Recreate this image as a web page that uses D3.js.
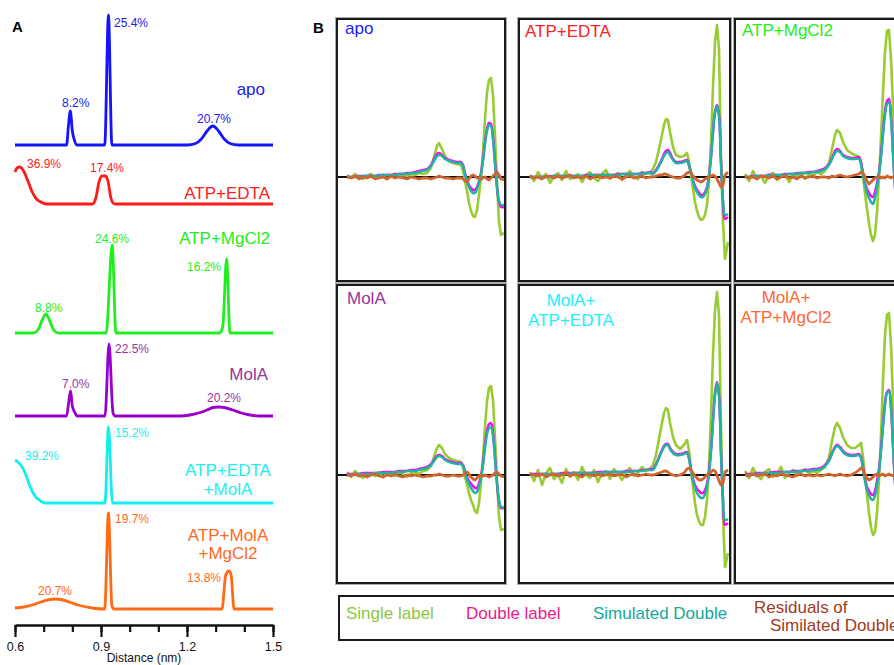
<!DOCTYPE html>
<html><head><meta charset="utf-8">
<script src="https://cdn.jsdelivr.net/npm/d3@7"></script>
<style>
body{margin:0;background:#fff}
svg{display:block;font-family:"Liberation Sans",Arial,Helvetica,sans-serif}
</style>
</head><body>
<svg id="chart" width="894" height="665"></svg>
<script>
// ================= DATA =================
// ---- Panel A: distance distributions (distance in nm, probability in a.u.) ----
const A_NAMES = ["apo", "ATP+EDTA", "ATP+MgCl2", "MolA", "ATP+EDTA+MolA", "ATP+MolA+MgCl2"];
const DIST_TICKS_MINOR = [0.6, 0.7, 0.8, 0.9, 1.0, 1.1, 1.2, 1.3, 1.4, 1.5];
const DIST_TICKS_MAJOR = [0.6, 0.9, 1.2, 1.5];

const DIST_APO = [0.6, 0.78, 0.786, 0.793, 0.80, 0.806, 0.815, 0.913, 0.926, 0.938, 1.20, 1.23, 1.25, 1.27, 1.29, 1.31, 1.33, 1.35, 1.38, 1.5];
const PROB_APO = [0, 0, 18, 34, 14, 6, 0, 0, 130, 0, 0, 1.5, 6, 14, 19, 14, 6, 1.5, 0, 0];
const PCT_APO = ["8.2%", "25.4%", "20.7%"];

const DIST_EDTA = [0.6, 0.607, 0.617, 0.63, 0.645, 0.66, 0.675, 0.69, 0.71, 0.87, 0.882, 0.893, 0.903, 0.915, 0.925, 0.933, 0.942, 0.95, 1.5];
const PROB_EDTA = [32, 36, 37, 33, 23, 12, 5, 2, 0, 0, 6, 22, 28, 28, 22, 8, 1, 0, 0];
const PCT_EDTA = ["36.9%", "17.4%"];

const DIST_MG = [0.6, 0.665, 0.68, 0.695, 0.708, 0.72, 0.735, 0.75, 0.918, 0.939, 0.952, 1.315, 1.325, 1.338, 1.35, 1.5];
const PROB_MG = [0, 0, 3, 13, 19, 13, 3, 0, 0, 88, 0, 0, 7, 74, 0, 0];
const PCT_MG = ["8.8%", "24.6%", "16.2%"];

const DIST_MOLA = [0.6, 0.78, 0.787, 0.794, 0.80, 0.808, 0.817, 0.914, 0.928, 0.942, 0.95, 1.18, 1.21, 1.24, 1.27, 1.29, 1.31, 1.33, 1.36, 1.39, 1.42, 1.45, 1.5];
const PROB_MOLA = [0, 0, 13, 25, 10, 4, 0, 0, 72, 3, 0, 0, 1, 3, 6, 8.5, 9, 8.5, 6, 3, 1, 0, 0];
const PCT_MOLA = ["7.0%", "22.5%", "20.2%"];

const DIST_EDTA_MOLA = [0.6, 0.61, 0.623, 0.638, 0.652, 0.665, 0.676, 0.69, 0.705, 0.914, 0.926, 0.94, 1.5];
const PROB_EDTA_MOLA = [43, 41, 37, 28, 17, 9, 5, 2, 0, 0, 76, 0, 0];
const PCT_EDTA_MOLA = ["39.2%", "15.2%"];

const DIST_MOLA_MG = [0.6, 0.63, 0.66, 0.69, 0.72, 0.74, 0.76, 0.79, 0.82, 0.85, 0.88, 0.913, 0.926, 0.938, 0.945, 1.322, 1.335, 1.346, 1.354, 1.364, 1.5];
const PROB_MOLA_MG = [1, 2, 4, 7, 9.5, 10, 9.5, 7, 4, 2, 0.5, 0, 96, 3, 0, 0, 34, 38, 34, 0, 0];
const PCT_MOLA_MG = ["20.7%", "19.7%", "13.8%"];

// ---- Panel B: CW spectra (field in G, amplitude in a.u.) ----
const B_TITLES = [["apo"], ["ATP+EDTA"], ["ATP+MgCl2"], ["MolA"], ["MolA+", "ATP+EDTA"], ["MolA+", "ATP+MgCl2"]];
const B_SERIES = ["Single label", "Double label", "Simulated Double", "Residuals of|Similated Double"];

const FIELD_NARROW = [3310,3314,3318,3322,3326,3330,3334,3338,3342,3346,3350,3354,3358,3362,3366,3370,3374,3378,3382,3386,
  3390,3394,3397,3400,3402,3405,3408,3412,3416,3420,3424,3426,3428,3430,3432,3434,3436,3438,3440,3442,3444,3446,3448,3450,3452,3454,3456,3458,3460,3462,3464,3467];
const FIELD_WIDE = [3264,3268,3272,3276,3280,3284,3288,3292,3296,3300,3304,3308,3312,3316,3320,3324,3328,3332,3336,3340,3344,3348,3352,3356,3360,3364,3368,3372,3376,3380,3384,
  3387,3390,3393,3396,3398,3400,3402,3404,3407,3410,3414,3418,3421,3423,3425,3427,3429,3431,3433,3435,3437,3439,3441,3443,3445,3447,3449,3451,3453,3455,3457,3459,3462];

// apo
const APO_SINGLE = [2,-1,3,0,-2,1,3,-1,0,2,-2,1,3,0,2,1,3,2,4,3,
  4,9,20,31,34,28,21,16,14,13,12,6,-4,-14,-26,-34,-39,-40,-33,-18,-2,25,58,85,97,99,82,42,-5,-45,-58,-56];
const APO_DOUBLE = [0,0,0,1,1,1,1,1,2,2,2,2,3,3,3,4,4,5,6,7,
  8,12,18,23,24,22,19,17,16,15,15,12,4,-3,-8,-11,-13,-13,-10,-4,4,18,35,48,54,53,40,15,-10,-25,-30,-30];
const APO_SIM = [0,0,0,0,1,1,1,1,1,2,2,2,2,3,3,3,4,4,5,6,
  7,11,16,21,22,21,18,16,15,14,14,11,3,-5,-10,-14,-16,-16,-12,-5,3,16,33,46,52,51,38,13,-10,-24,-28,-28];
const APO_RESID = [0,-1,1,-2,0,-1,1,-2,-1,0,-2,1,-1,0,-1,-2,0,-1,-2,-1,
  -1,-2,-1,0,1,0,-1,-1,-2,-1,-1,-2,-4,-5,-2,1,2,1,-1,-1,-2,-1,0,-2,-3,-1,1,3,5,2,-2,-3];

// ATP+EDTA
const EDTA_SINGLE = [2,-4,5,-1,3,-6,1,4,-3,6,-2,0,3,-5,2,5,-1,-4,3,7,-2,1,4,-3,2,6,0,-2,5,3,4,
  8,15,28,42,52,58,57,45,30,22,20,21,24,16,2,-12,-25,-34,-40,-43,-42,-38,-28,-5,35,90,135,152,128,20,-45,-82,-65];
const EDTA_DOUBLE = [0,0,0,0,0,1,1,1,1,1,1,1,1,1,2,2,2,2,2,2,2,2,3,3,3,3,3,3,4,4,5,
  4,7,12,18,23,26,27,24,18,15,15,16,17,12,5,-3,-9,-13,-16,-18,-18,-15,-10,2,20,45,65,72,62,15,-25,-42,-40];
const EDTA_SIM = [0,0,0,0,0,0,1,1,1,1,1,1,1,1,1,2,2,2,2,2,2,2,2,3,3,3,3,3,3,4,4,
  3,6,11,17,21,24,25,22,17,14,14,15,16,11,4,-4,-11,-15,-18,-20,-20,-17,-11,1,19,44,64,71,61,14,-23,-38,-37];
const EDTA_RESID = [1,-1,0,-2,1,0,-1,1,-1,0,2,-1,0,-1,1,-2,0,1,-1,0,-1,1,0,-2,0,1,-1,0,1,-1,0,
  0,1,2,2,3,3,2,1,0,-1,-1,1,4,5,4,1,-1,-3,-4,-5,-4,-2,-1,0,1,2,1,-2,-6,-10,-8,2,5];

// ATP+MgCl2
const MG_SINGLE = [3,-4,6,-2,1,-6,2,4,-3,0,3,-5,2,1,4,-2,3,1,5,3,
  6,14,28,42,47,44,35,27,24,22,20,14,0,-16,-32,-46,-58,-64,-58,-35,0,40,85,125,146,147,118,72,22,-28,-52,-58];
const MG_DOUBLE = [0,0,1,1,1,1,2,2,2,2,3,3,3,4,4,4,5,5,6,7,
  9,13,19,26,28,26,22,20,19,19,20,15,4,-6,-12,-16,-19,-20,-15,-6,5,22,45,65,76,78,60,25,-10,-30,-38,-38];
const MG_SIM = [0,0,0,1,1,1,1,2,2,2,2,3,3,3,4,4,4,5,5,6,
  8,12,18,24,26,25,21,19,18,18,18,13,2,-8,-16,-21,-25,-27,-21,-10,3,20,42,62,73,75,58,23,-10,-28,-36,-36];
const MG_RESID = [1,-1,0,-2,1,0,-1,1,-2,0,1,-1,0,-2,1,-1,0,1,-1,0,
  0,-1,1,0,1,2,1,0,1,2,3,5,4,0,-4,-7,-5,-3,-1,0,1,-1,0,-1,1,0,-1,0,1,0,-1,0];

// MolA
const MOLA_SINGLE = [3,-2,4,0,-3,2,1,-1,3,-2,2,0,-1,3,1,-2,2,3,1,4,
  5,9,18,27,30,27,21,17,15,14,13,8,-2,-10,-18,-25,-30,-36,-38,-28,-8,18,48,74,87,89,75,38,-5,-42,-55,-54];
const MOLA_DOUBLE = [1,1,1,1,2,2,2,2,2,3,3,3,3,4,4,4,5,5,6,7,
  8,11,15,19,20,19,16,14,13,12,12,10,4,-2,-6,-9,-11,-13,-13,-8,-1,12,30,44,51,52,42,18,-8,-26,-33,-33];
const MOLA_SIM = [0,0,1,1,1,1,1,2,2,2,2,2,3,3,3,4,4,4,5,6,
  7,10,14,18,19,18,15,13,12,11,11,9,2,-4,-9,-13,-16,-18,-17,-11,-3,10,27,41,47,48,39,16,-8,-25,-32,-32];
const MOLA_RESID = [0,-1,1,-1,0,-2,0,1,-1,-2,0,-1,1,-1,-2,0,-1,0,-1,-2,
  -1,-1,0,0,1,0,-1,-1,0,-1,-1,0,2,3,1,-2,-4,-5,-3,-1,0,-1,0,-1,-2,-1,0,2,3,1,-1,-2];

// MolA+ATP+EDTA
const MOLA_EDTA_SINGLE = [3,-6,5,-10,2,7,-4,1,-8,6,-2,3,-5,8,0,-3,5,-7,2,4,-4,6,1,-5,3,7,-1,2,8,4,6,
  10,20,36,52,62,67,65,52,38,30,26,30,35,25,5,-12,-28,-40,-46,-50,-50,-42,-25,10,60,120,165,183,160,50,-40,-92,-78];
const MOLA_EDTA_DOUBLE = [1,1,1,1,1,1,1,1,2,2,2,2,2,2,2,2,2,3,3,3,3,3,3,3,4,4,4,4,5,5,6,
  6,11,18,25,29,31,31,27,23,21,21,22,23,17,6,-4,-10,-14,-16,-18,-18,-15,-9,4,25,55,82,93,80,22,-25,-50,-48];
const MOLA_EDTA_SIM = [0,0,0,1,1,1,1,1,1,1,1,2,2,2,2,2,2,2,2,3,3,3,3,3,3,3,4,4,4,5,5,
  5,10,17,24,28,30,30,26,22,20,20,21,22,16,4,-6,-13,-18,-21,-23,-23,-19,-12,2,23,53,80,92,79,21,-23,-45,-44];
const MOLA_EDTA_RESID = [1,0,-1,1,-2,0,1,-1,0,2,-1,1,0,-2,1,0,-1,1,-1,0,1,-1,0,1,-2,0,1,-1,0,1,0,
  0,1,2,3,4,4,3,1,0,-1,0,2,6,7,5,2,-1,-3,-5,-5,-4,-2,0,1,3,5,4,0,-6,-10,-8,3,5];

// MolA+ATP+MgCl2
const MOLA_MG_SINGLE = [4,-3,7,0,-4,3,6,-2,1,8,-3,2,5,-1,3,6,1,4,2,5,
  8,18,34,48,52,47,38,30,27,27,30,32,18,0,-20,-38,-52,-60,-57,-38,-5,40,95,140,160,162,130,75,20,-30,-55,-60];
const MOLA_MG_DOUBLE = [1,1,1,2,2,2,2,3,3,3,3,3,4,4,4,5,5,6,6,7,
  10,15,22,28,30,28,24,21,20,20,21,18,8,-4,-12,-16,-19,-20,-16,-6,6,26,50,72,83,85,68,30,-8,-30,-38,-38];
const MOLA_MG_SIM = [0,0,1,1,1,2,2,2,2,2,3,3,3,3,4,4,4,5,5,6,
  9,14,21,27,29,27,23,20,19,19,20,17,6,-6,-15,-20,-24,-25,-21,-10,3,24,48,70,82,84,67,29,-8,-29,-37,-37];
const MOLA_MG_RESID = [0,-1,1,-1,0,1,-2,0,-1,1,0,-1,-2,0,1,-1,0,-1,0,-1,
  0,1,0,-1,0,1,0,-1,0,2,5,7,5,0,-3,-5,-4,-2,0,1,-1,0,1,-1,0,1,0,-1,0,1,0,-1];

// ================= LAYOUT / STYLE =================
const svg = d3.select("#chart");
svg.append("rect").attr("width", 894).attr("height", 665).attr("fill", "#fff");

const A_COLORS = ["#1414ff", "#ff1a1a", "#1fee1f", "#9a00cc", "#14eeee", "#ff6a14"];
const A_TEXT = ["#2020ee", "#ff2020", "#22ee22", "#993399", "#22eeee", "#ff6a22"];
const A_BASE = [145, 204, 333, 416, 503, 609];

const xA = d3.scaleLinear().domain([0.6, 1.5]).range([15, 273]);
const hA = d3.scaleLinear().domain([0, 130]).range([0, 130]);

svg.append("text").attr("x", 12).attr("y", 32).attr("font-size", 15).attr("font-weight", "bold").text("A");
svg.append("text").attr("x", 313).attr("y", 33).attr("font-size", 15).attr("font-weight", "bold").text("B");

const aTraces = [
  {d: DIST_APO, p: PROB_APO, pct: PCT_APO},
  {d: DIST_EDTA, p: PROB_EDTA, pct: PCT_EDTA},
  {d: DIST_MG, p: PROB_MG, pct: PCT_MG},
  {d: DIST_MOLA, p: PROB_MOLA, pct: PCT_MOLA},
  {d: DIST_EDTA_MOLA, p: PROB_EDTA_MOLA, pct: PCT_EDTA_MOLA},
  {d: DIST_MOLA_MG, p: PROB_MOLA_MG, pct: PCT_MOLA_MG}
];
const A_PCT_POS = [
  [[62,107],[114,27],[197,123]],
  [[27,168],[90,172]],
  [[35,312],[95,243],[187,271]],
  [[62,388],[115,353],[207,402]],
  [[25,460],[115,437]],
  [[38,595],[115,523],[187,582]]
];
const A_NAME_POS = [
  {lines: ["apo"], x: 265, y: [95], anchor: "end"},
  {lines: ["ATP+EDTA"], x: 270, y: [199], anchor: "end"},
  {lines: ["ATP+MgCl2"], x: 270, y: [244], anchor: "end"},
  {lines: ["MolA"], x: 268, y: [380], anchor: "end"},
  {lines: ["ATP+EDTA", "+MolA"], x: 228, y: [476, 495], anchor: "middle"},
  {lines: ["ATP+MolA", "+MgCl2"], x: 228, y: [541, 559], anchor: "middle"}
];

const gA = svg.append("g");
aTraces.forEach((t, k) => {
  const line = d3.line()
    .x((v, i) => xA(t.d[i]))
    .y(v => A_BASE[k] - hA(v))
    .curve(d3.curveMonotoneX);
  gA.append("path").attr("d", line(t.p)).attr("fill", "none")
    .attr("stroke", A_COLORS[k]).attr("stroke-width", 2.8).attr("stroke-linejoin", "round");
  t.pct.forEach((s, j) => {
    gA.append("text").attr("x", A_PCT_POS[k][j][0]).attr("y", A_PCT_POS[k][j][1])
      .attr("font-size", 12).attr("fill", A_TEXT[k]).text(s);
  });
  const nm = A_NAME_POS[k];
  nm.lines.forEach((s, j) => {
    gA.append("text").attr("x", nm.x).attr("y", nm.y[j]).attr("text-anchor", nm.anchor)
      .attr("font-size", 17).attr("fill", A_TEXT[k]).text(s);
  });
});

// axis
const axMinor = svg.append("g").attr("transform", "translate(0,625)")
  .call(d3.axisBottom(xA).tickValues(DIST_TICKS_MINOR).tickSize(7).tickSizeOuter(0).tickFormat(""));
const axMajor = svg.append("g").attr("transform", "translate(0,625)")
  .call(d3.axisBottom(xA).tickValues(DIST_TICKS_MAJOR).tickSize(12).tickSizeOuter(0).tickPadding(5).tickFormat(d3.format(".1f")));
axMajor.select(".domain").remove();
axMinor.select(".domain").attr("stroke", "#111").attr("stroke-width", 2.5);
svg.selectAll(".tick line").attr("stroke", "#111").attr("stroke-width", 2.2);
axMajor.selectAll("text").attr("font-size", 12.5).attr("fill", "#111").style("font-family", "'Liberation Sans',Arial,sans-serif");
svg.append("text").attr("x", 144).attr("y", 662).attr("text-anchor", "middle").attr("font-size", 12).attr("fill", "#111").text("Distance (nm)");

// ---- Panel B ----
const B_COLORS = ["#99cc33", "#ff00ff", "#22b2a2", "#d0652e"];
const B_TEXT = ["#8dc63f", "#ec1a8c", "#13a99b", "#a03c24"];
const TITLE_COLORS = ["#1a1aff", "#ff2020", "#22ee22", "#993399", "#22eeff", "#ff6633"];

const panelData = [
  {field: FIELD_NARROW, s: [APO_SINGLE, APO_DOUBLE, APO_SIM, APO_RESID]},
  {field: FIELD_WIDE, s: [EDTA_SINGLE, EDTA_DOUBLE, EDTA_SIM, EDTA_RESID]},
  {field: FIELD_NARROW, s: [MG_SINGLE, MG_DOUBLE, MG_SIM, MG_RESID]},
  {field: FIELD_NARROW, s: [MOLA_SINGLE, MOLA_DOUBLE, MOLA_SIM, MOLA_RESID]},
  {field: FIELD_WIDE, s: [MOLA_EDTA_SINGLE, MOLA_EDTA_DOUBLE, MOLA_EDTA_SIM, MOLA_EDTA_RESID]},
  {field: FIELD_NARROW, s: [MOLA_MG_SINGLE, MOLA_MG_DOUBLE, MOLA_MG_SIM, MOLA_MG_RESID]}
];
const TOP = {y: 19, h: 262, dom: [-104, 158]};
const BOT = {y: 285, h: 298, dom: [-108, 190]};
const panelLayout = [
  {x: 337, w: 168, row: TOP, xdom: [3300, 3468], tx: 345, ty: [34], ta: "start"},
  {x: 519, w: 211, row: TOP, xdom: [3253, 3464], tx: 525, ty: [37], ta: "start"},
  {x: 735, w: 168, row: TOP, xdom: [3300, 3468], tx: 742, ty: [36], ta: "start"},
  {x: 337, w: 168, row: BOT, xdom: [3300, 3468], tx: 347, ty: [304], ta: "start"},
  {x: 519, w: 211, row: BOT, xdom: [3253, 3464], tx: 571, ty: [306, 326], ta: "middle"},
  {x: 735, w: 168, row: BOT, xdom: [3300, 3468], tx: 786, ty: [303, 323], ta: "middle"}
];
const CURVES = [d3.curveLinear, d3.curveCatmullRom.alpha(0.5), d3.curveCatmullRom.alpha(0.5), d3.curveLinear];
const WIDTHS = [2.6, 2.5, 2.5, 2.8];

const defs = svg.append("defs");
panelLayout.forEach((L, k) => {
  const P = panelData[k];
  const y0 = L.row.y, h = L.row.h;
  const xs = d3.scaleLinear().domain(L.xdom).range([L.x, L.x + L.w]);
  const ys = d3.scaleLinear().domain(L.row.dom).range([y0 + h, y0]);
  defs.append("clipPath").attr("id", "clip" + k).append("rect")
    .attr("x", L.x + 1).attr("y", y0 + 1).attr("width", L.w - 2).attr("height", h - 2);
  const g = svg.append("g");
  const gc = g.append("g").attr("clip-path", `url(#clip${k})`);
  gc.append("line").attr("x1", L.x).attr("x2", L.x + L.w).attr("y1", ys(0)).attr("y2", ys(0))
    .attr("stroke", "#111").attr("stroke-width", 2.2);
  P.s.forEach((arr, si) => {
    const line = d3.line().x((v, i) => xs(P.field[i])).y(v => ys(v)).curve(CURVES[si]);
    gc.append("path").attr("d", line(arr)).attr("fill", "none")
      .attr("stroke", B_COLORS[si]).attr("stroke-width", WIDTHS[si])
      .attr("stroke-linejoin", "round");
  });
  g.append("rect").attr("x", L.x - 1.5).attr("y", y0 - 1.5).attr("width", L.w + 3).attr("height", h + 3)
    .attr("fill", "none").attr("stroke", "#aaa").attr("stroke-width", 1);
  g.append("rect").attr("x", L.x).attr("y", y0).attr("width", L.w).attr("height", h)
    .attr("fill", "none").attr("stroke", "#1a1a1a").attr("stroke-width", 2);
  B_TITLES[k].forEach((s, j) => {
    g.append("text").attr("x", L.tx).attr("y", L.ty[j]).attr("text-anchor", L.ta)
      .attr("font-size", 17).attr("fill", TITLE_COLORS[k]).text(s);
  });
});

// legend
const lg = svg.append("g");
lg.append("rect").attr("x", 339).attr("y", 596).attr("width", 620).attr("height", 44)
  .attr("fill", "none").attr("stroke", "#1a1a1a").attr("stroke-width", 2);
const LEG_POS = [{x: 346, y: [619]}, {x: 466, y: [619]}, {x: 593, y: [619]}, {x: 754, y: [613, 631], dx: [0, 16]}];
B_SERIES.forEach((name, i) => {
  name.split("|").forEach((s, j) => {
    lg.append("text").attr("x", LEG_POS[i].x + (LEG_POS[i].dx ? LEG_POS[i].dx[j] : 0))
      .attr("y", LEG_POS[i].y[j]).attr("font-size", 17).attr("fill", B_TEXT[i]).text(s);
  });
});
</script>
</body></html>
